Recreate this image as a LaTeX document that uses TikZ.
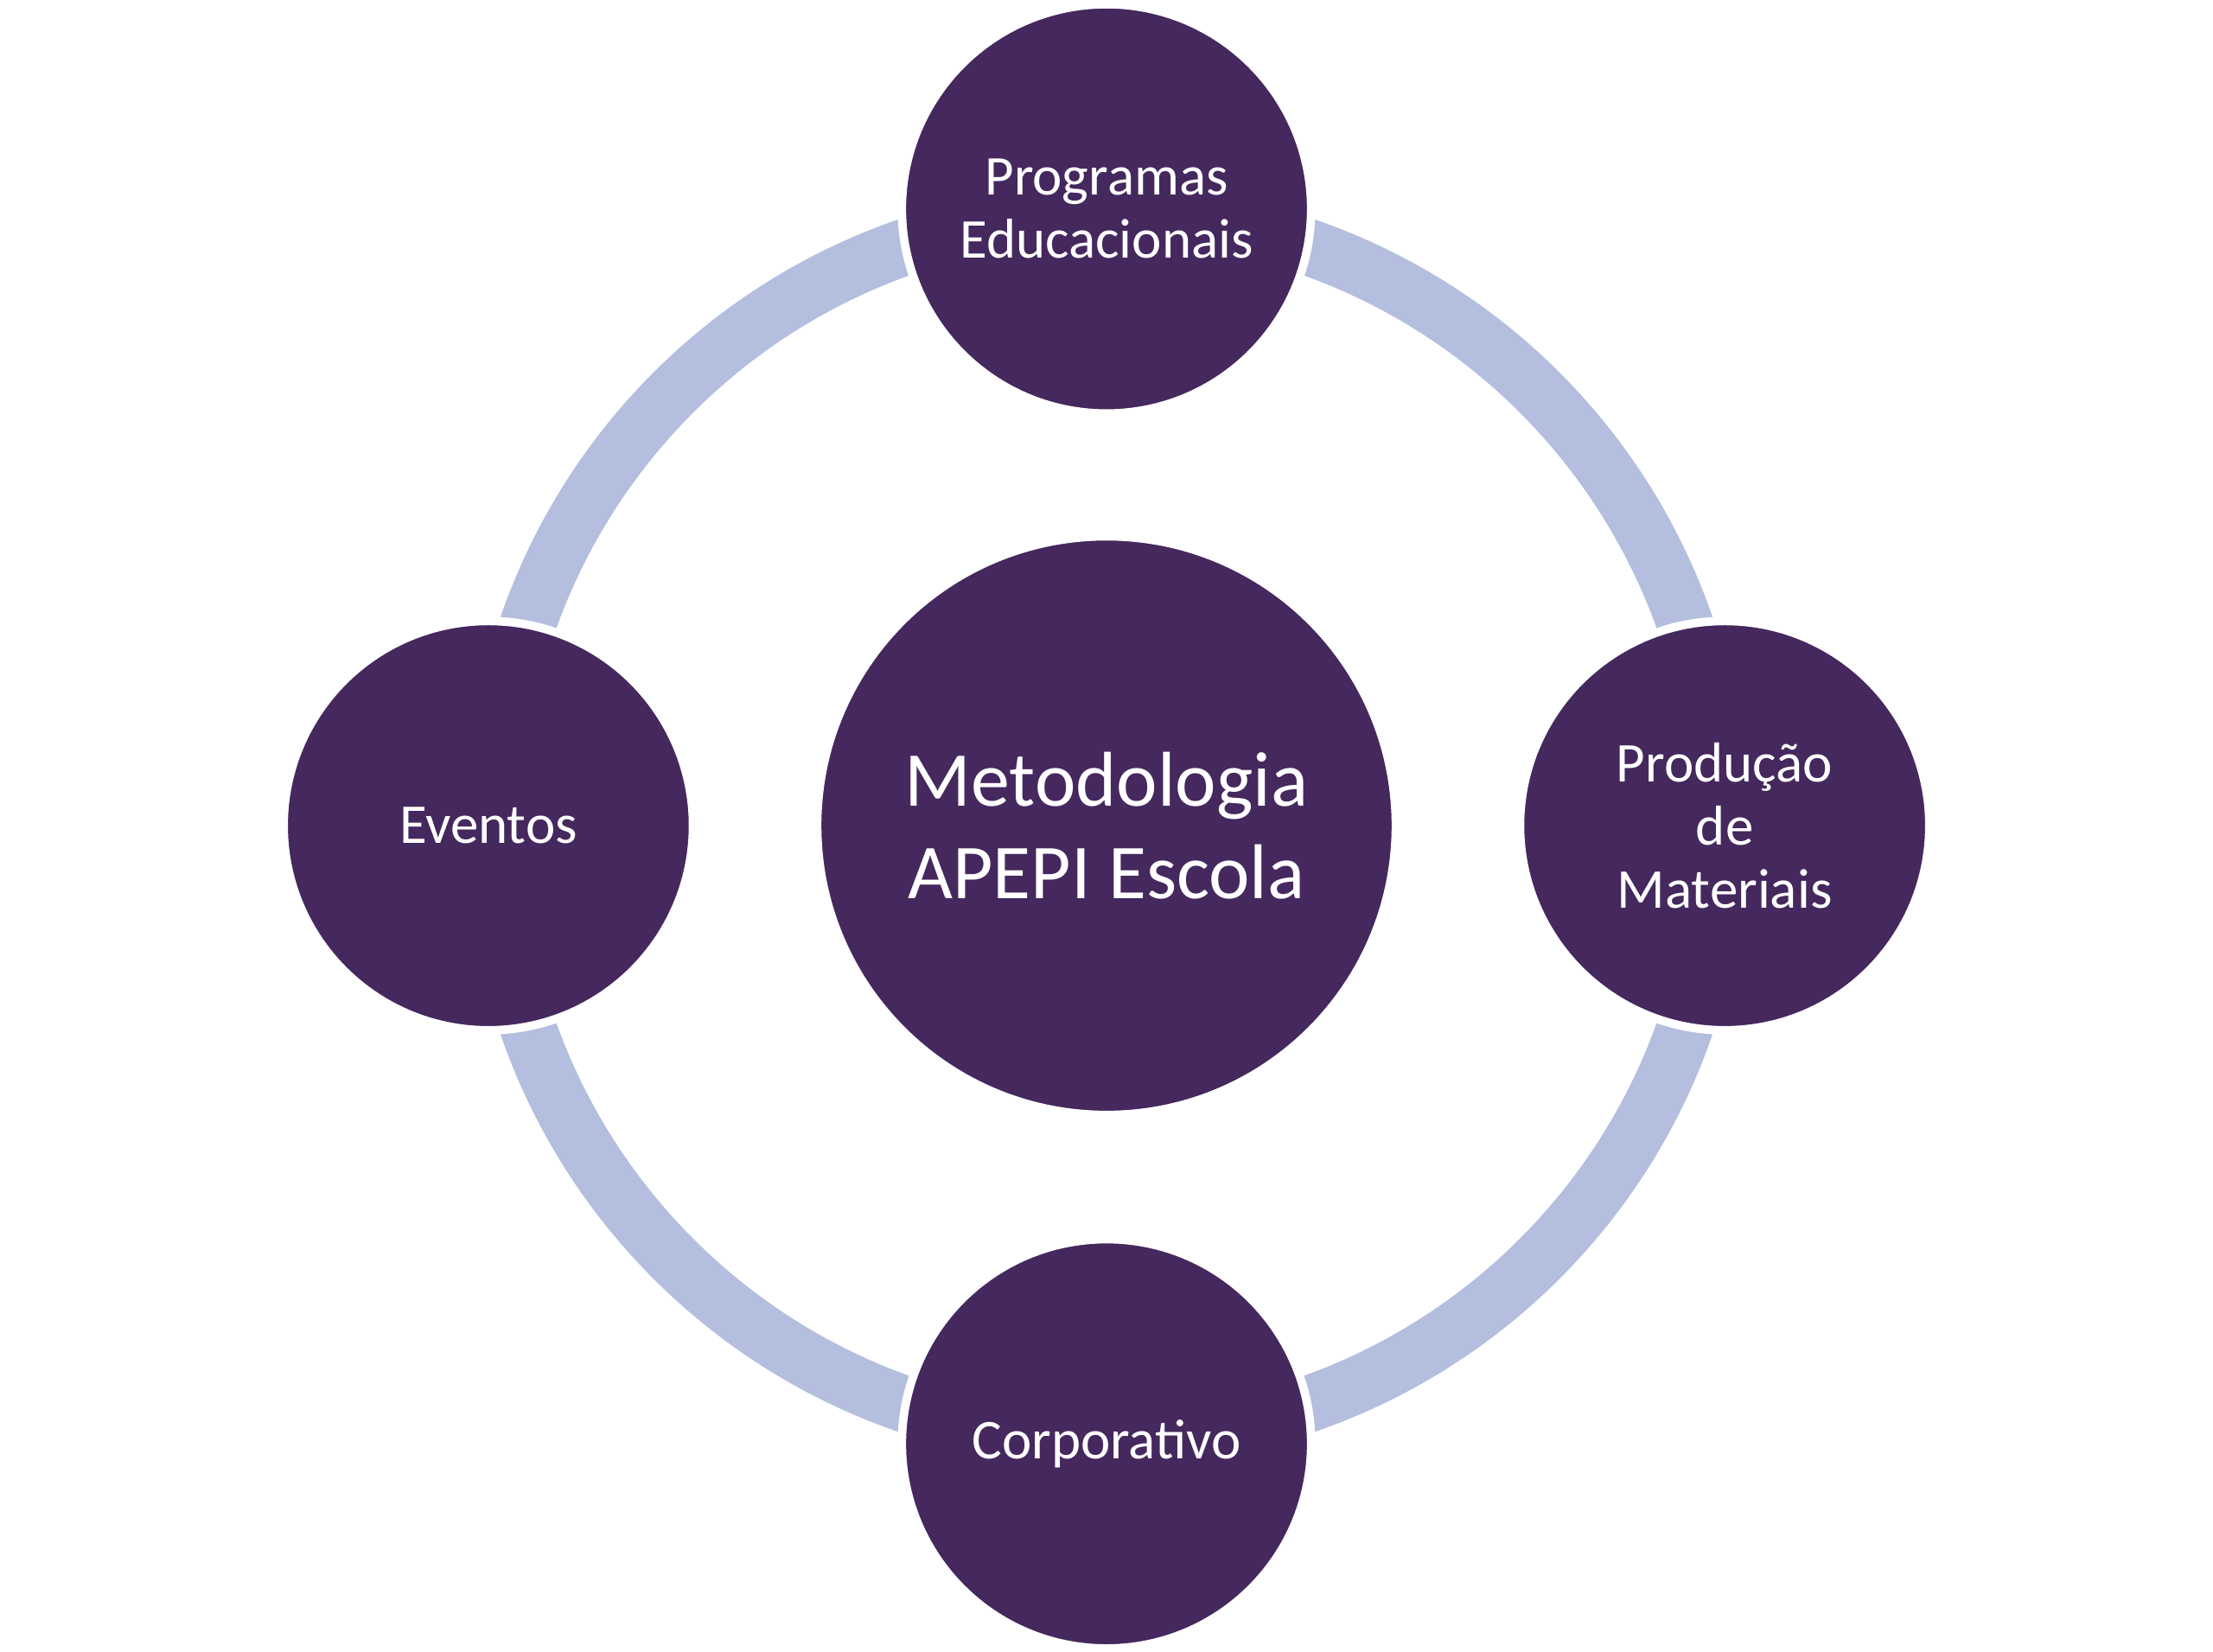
\documentclass[tikz,border=0pt]{standalone}
\usepackage{fontspec}
\setmainfont{Carlito}
\usetikzlibrary{positioning}
\definecolor{hubcolor}{RGB}{69, 40, 94}
\definecolor{ringcolor}{RGB}{180, 190, 223}
\tikzstyle{hub} = [circle, fill=hubcolor, draw=white, line width=1.8mm,
                   minimum size=123mm, text=white, align=center,
                   font=\fontsize{47}{56}\selectfont, inner sep=0pt]
\tikzstyle{satellite} = [circle, fill=hubcolor, draw=white, line width=1.8mm,
                         minimum size=87mm, text=white, align=center,
                         font=\fontsize{34}{38}\selectfont, inner sep=0pt]
\tikzstyle{ring} = [ringcolor, line width=12mm]

\begin{document}
\begin{tikzpicture}[x=0.3mm, y=0.3mm]
        \useasboundingbox (0,0) rectangle (1568,1170);

        %Ring behind the circles
        \coordinate (C) at (784,585);
        \draw [ring] (C) circle (434);

        %Center
        \node (Metodologia) [hub] at (C) {Metodologia\\APEPI Escola};

        %Satellites
        \node (Programas) [satellite] at (784,1022) {Programas\\Educacionais};
        \node (Producao) [satellite] at (1222,585) {Produção\\de\\Materiais};
        \node (Corporativo) [satellite] at (784,147) {Corporativo};
        \node (Eventos) [satellite] at (346,585) {Eventos};
\end{tikzpicture}
\end{document}
